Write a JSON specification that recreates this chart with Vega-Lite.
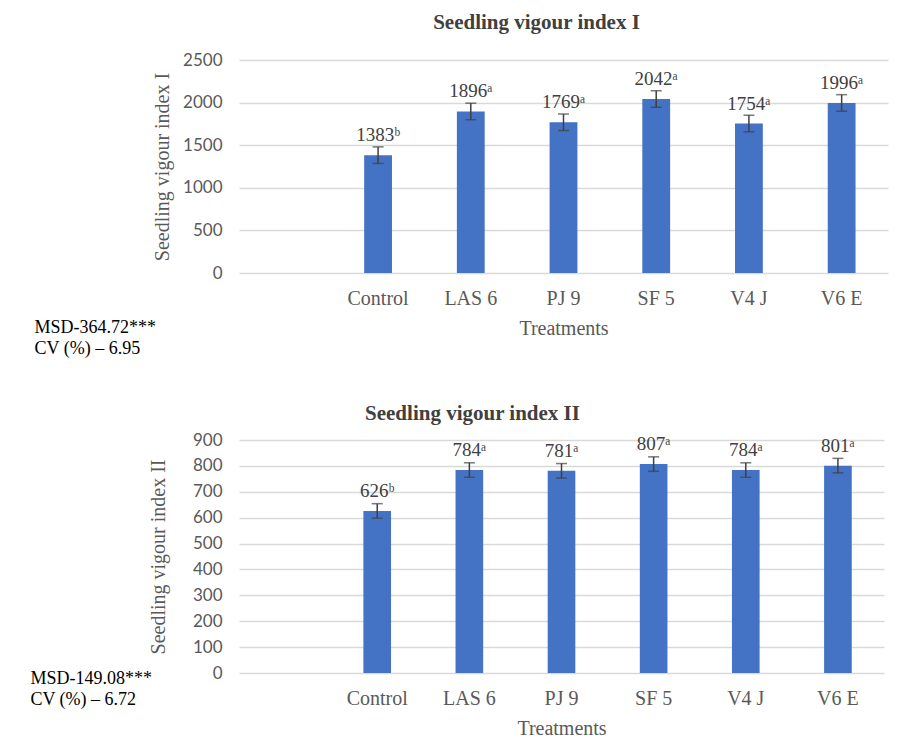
{
  "$schema": "https://vega.github.io/schema/vega-lite/v6.json",
  "background": "white",
  "padding": {"left": 30, "top": 12, "right": 5, "bottom": 5},
  "spacing": 45,
  "config": {
    "view": {"stroke": null},
    "axis": {"domain": false, "ticks": false, "gridColor": "#d9d9d9", "gridWidth": 1.5, "labelColor": "#595959", "titleColor": "#595959", "titleFont": "Liberation Serif", "titleFontWeight": "normal", "titleFontSize": 20},
    "axisY": {"labelFont": "Lato", "labelFontSize": 17, "labelPadding": 17, "titlePadding": 10, "format": "d"},
    "axisX": {"labelFont": "Liberation Serif", "labelFontSize": 20, "labelPadding": 15, "titlePadding": 10, "labelAngle": 0, "grid": false},
    "title": {"font": "Liberation Serif", "fontSize": 21, "fontWeight": "bold", "color": "#404040"}
  },
  "vconcat": [
    {
      "title": {"text": ["MSD-364.72***", "CV (%) – 6.95"], "orient": "bottom", "anchor": "start", "frame": "bounds", "font": "Liberation Serif", "fontSize": 18, "fontWeight": "normal", "color": "black", "lineHeight": 21, "dx": -118, "dy": -23},
      "vconcat": [
        {
          "width": 649,
          "height": 213,
          "title": {"text": "Seedling vigour index I", "dx": -27, "offset": 18},
          "data": {"values": [
            {"treatment": "Control", "value": 1383, "err": 97, "label": "1383ᵇ"},
            {"treatment": "LAS 6", "value": 1896, "err": 97, "label": "1896ᵃ"},
            {"treatment": "PJ 9", "value": 1769, "err": 97, "label": "1769ᵃ"},
            {"treatment": "SF 5", "value": 2042, "err": 97, "label": "2042ᵃ"},
            {"treatment": "V4 J", "value": 1754, "err": 97, "label": "1754ᵃ"},
            {"treatment": "V6 E", "value": 1996, "err": 97, "label": "1996ᵃ"}
          ]},
          "encoding": {
            "x": {"field": "treatment", "type": "nominal", "sort": null, "title": "Treatments",
                  "scale": {"domain": ["", "Control", "LAS 6", "PJ 9", "SF 5", "V4 J", "V6 E"], "paddingInner": 0.7, "paddingOuter": 0.35}},
            "y": {"field": "value", "type": "quantitative", "title": "Seedling vigour index I",
                  "scale": {"domain": [0, 2500]}, "axis": {"values": [0, 500, 1000, 1500, 2000, 2500]}}
          },
          "layer": [
            {"mark": {"type": "bar", "color": "#4472C4"}},
            {"mark": {"type": "errorbar", "color": "#404040", "thickness": 1.5, "ticks": {"size": 11, "thickness": 1.5}}, "encoding": {"yError": {"field": "err"}}},
            {"mark": {"type": "text", "font": "Liberation Serif", "fontSize": 19, "color": "#404040", "baseline": "alphabetic", "dy": -14}, "encoding": {"text": {"field": "label"}}}
          ]
        }
      ]
    },
    {
      "title": {"text": ["MSD-149.08***", "CV (%) – 6.72"], "orient": "bottom", "anchor": "start", "frame": "bounds", "font": "Liberation Serif", "fontSize": 18, "fontWeight": "normal", "color": "black", "lineHeight": 21, "dx": -118, "dy": -72},
      "vconcat": [
        {
          "width": 645,
          "height": 233,
          "title": {"text": "Seedling vigour index II", "dx": -89, "offset": 7},
          "data": {"values": [
            {"treatment": "Control", "value": 626, "err": 28, "label": "626ᵇ"},
            {"treatment": "LAS 6", "value": 784, "err": 28, "label": "784ᵃ"},
            {"treatment": "PJ 9", "value": 781, "err": 28, "label": "781ᵃ"},
            {"treatment": "SF 5", "value": 807, "err": 28, "label": "807ᵃ"},
            {"treatment": "V4 J", "value": 784, "err": 28, "label": "784ᵃ"},
            {"treatment": "V6 E", "value": 801, "err": 28, "label": "801ᵃ"}
          ]},
          "encoding": {
            "x": {"field": "treatment", "type": "nominal", "sort": null, "title": "Treatments",
                  "scale": {"domain": ["", "Control", "LAS 6", "PJ 9", "SF 5", "V4 J", "V6 E"], "paddingInner": 0.7, "paddingOuter": 0.35}},
            "y": {"field": "value", "type": "quantitative", "title": "Seedling vigour index II",
                  "scale": {"domain": [0, 900]}, "axis": {"values": [0, 100, 200, 300, 400, 500, 600, 700, 800, 900], "titlePadding": 24}}
          },
          "layer": [
            {"mark": {"type": "bar", "color": "#4472C4"}},
            {"mark": {"type": "errorbar", "color": "#404040", "thickness": 1.5, "ticks": {"size": 11, "thickness": 1.5}}, "encoding": {"yError": {"field": "err"}}},
            {"mark": {"type": "text", "font": "Liberation Serif", "fontSize": 19, "color": "#404040", "baseline": "alphabetic", "dy": -14}, "encoding": {"text": {"field": "label"}}}
          ]
        }
      ]
    }
  ]
}
